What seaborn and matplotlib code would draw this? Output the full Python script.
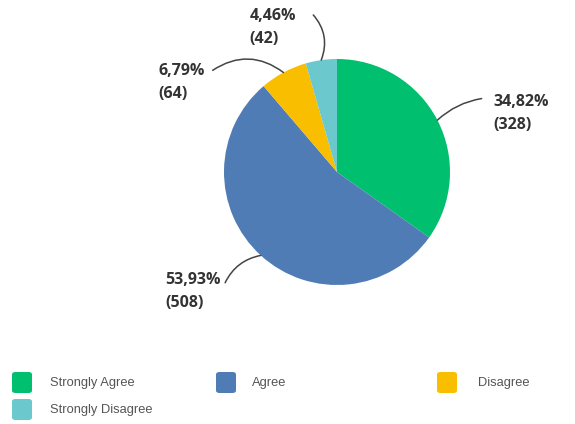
import matplotlib.pyplot as plt
import seaborn as sns
import numpy as np
from matplotlib.patches import FancyBboxPatch

categories = ['Strongly Agree', 'Agree', 'Disagree', 'Strongly Disagree']
counts = [328, 508, 64, 42]
pct_labels = ['34,82%', '53,93%', '6,79%', '4,46%']
colors = ['#00BF6F', '#507CB6', '#F9BE00', '#6BC8CD']

sns.set_theme(style='white')
plt.rcParams['font.family'] = ['Open Sans', 'DejaVu Sans']

fig = plt.figure(figsize=(5.75, 4.24), dpi=100)
# pie centre ~ (337, 172) px, radius ~113 px
ax = fig.add_axes([(337 - 113) / 575, (424 - 172 - 113) / 424, 226 / 575, 226 / 424])
wedges, _ = ax.pie(counts, colors=colors, startangle=90, counterclock=False,
                   wedgeprops=dict(linewidth=0))
ax.set_xlim(-1, 1)
ax.set_ylim(-1, 1)
ax.set_aspect('equal')
ax.axis('off')

# label layout: (line end, text anchor, ha, curvature)
layout = [
    ((1.28, 0.65), (1.38, 0.52), 'left', 0.15),
    ((-0.99, -0.98), (-1.03, -1.06), 'right', -0.25),
    ((-1.10, 0.90), (-1.17, 0.79), 'right', -0.35),
    ((-0.21, 1.39), (-0.36, 1.28), 'right', -0.3),
]

for w, pct, n, (lend, tpos, ha, rad) in zip(wedges, pct_labels, counts, layout):
    mid = np.deg2rad((w.theta1 + w.theta2) / 2)
    pt = (np.cos(mid), np.sin(mid))
    ax.annotate('', xy=pt, xytext=lend, annotation_clip=False,
                arrowprops=dict(arrowstyle='-', color='#444444', lw=1.1,
                                connectionstyle=f'arc3,rad={rad}',
                                shrinkA=0, shrinkB=0))
    ax.text(tpos[0], tpos[1], f'{pct}\n({n})', ha=ha, va='center',
            multialignment='left', fontsize=11.5, fontweight='bold',
            color='#333333', linespacing=1.6, clip_on=False)

# legend, laid out like the original
leg_pos = [(12, 383), (216, 383), (437, 383), (12, 410)]
for cat, col, (px, py) in zip(categories, colors, leg_pos):
    fig.patches.append(FancyBboxPatch(((px) / 575, (424 - py - 10) / 424), 20 / 575, 21 / 424,
                                      boxstyle='round,pad=0,rounding_size=0.006',
                                      transform=fig.transFigure, facecolor=col,
                                      edgecolor='none', figure=fig))
    tx = px + 38 if cat != 'Disagree' else px + 41
    if cat == 'Agree':
        tx = 252
    fig.text(tx / 575, (424 - py) / 424, cat, ha='left', va='center',
             fontsize=9.3, color='#555555', family=['Liberation Sans', 'DejaVu Sans'])

fig.savefig('out.png', dpi=100, facecolor='white')
